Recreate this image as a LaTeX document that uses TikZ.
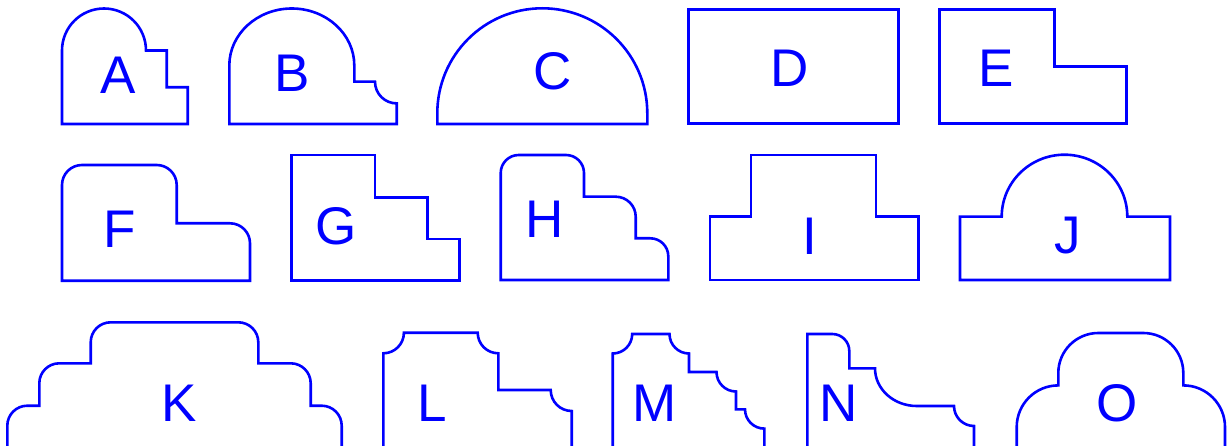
\documentclass[tikz,border=0pt]{standalone}
\usepackage{fontspec}
\setmainfont{Liberation Sans}
\definecolor{pureblue}{RGB}{0,0,255}
\begin{document}
\begin{tikzpicture}[x=1pt,y=-1pt,
  outline/.style={draw=pureblue,line width=2.6pt,line join=miter},
  lbl/.style={text=pureblue,inner sep=0pt,font=\fontsize{53}{53}\selectfont}]
\useasboundingbox (0,0) rectangle (1230,446);
\clip (0,0) rectangle (1230,446);
% A
\draw[outline] (62,124) -- (62,50.5) arc[start angle=180,end angle=360,radius=42]
  -- (166.7,50.5) -- (166.7,87.3) -- (187.7,87.3) -- (187.7,124) -- cycle;
% B
\draw[outline] (229.3,124) -- (229.3,65.5) arc[start angle=180,end angle=360,x radius=62.5,y radius=57]
  -- (354.3,81.7) -- (375,81.7) arc[start angle=180,end angle=90,radius=21.7]
  -- (396.7,124) -- cycle;
% C
\draw[outline] (437.3,124) -- (437.3,113.3) arc[start angle=180,end angle=360,radius=105]
  -- (647.3,124) -- cycle;
% D
\draw[outline] (688.7,9.3) rectangle (898.3,123.3);
% E
\draw[outline] (939.3,123.3) -- (939.3,9.3) -- (1054.3,9.3) -- (1054.3,66.7)
  -- (1126.7,66.7) -- (1126.7,123.3) -- cycle;
% F
\draw[outline] (62,280.7) -- (62,185) arc[start angle=180,end angle=270,radius=20]
  -- (156.7,165) arc[start angle=270,end angle=360,radius=20]
  -- (176.7,223.3) -- (230,223.3) arc[start angle=270,end angle=360,radius=20]
  -- (250,280.7) -- cycle;
% G
\draw[outline] (291.7,280.7) -- (291.7,155) -- (375,155) -- (375,197.3) -- (427.7,197.3)
  -- (427.7,239) -- (459.3,239) -- (459.3,280.7) -- cycle;
% H
\draw[outline] (500.7,280) -- (500.7,173) arc[start angle=180,end angle=270,radius=18]
  -- (566,155) arc[start angle=270,end angle=360,radius=18]
  -- (584,196.7) -- (615.7,196.7) arc[start angle=270,end angle=360,radius=20]
  -- (635.7,238.3) -- (650.3,238.3) arc[start angle=270,end angle=360,radius=18]
  -- (668.3,280) -- cycle;
% I
\draw[outline] (710,280) -- (710,216.7) -- (751,216.7) -- (751,155) -- (876,155)
  -- (876,216.7) -- (918.3,216.7) -- (918.3,280) -- cycle;
% J
\draw[outline] (960,280) -- (960,216.7) -- (1001.7,216.7)
  arc[start angle=180,end angle=360,x radius=62.8,y radius=62]
  -- (1170,216.7) -- (1170,280) -- cycle;
% K
\draw[outline] (7.3,450) -- (7.3,425.7) arc[start angle=180,end angle=270,radius=20]
  -- (39.3,405.7) -- (39.3,383.3) arc[start angle=180,end angle=270,radius=20]
  -- (90.7,363.3) -- (90.7,342.3) arc[start angle=180,end angle=270,radius=20]
  -- (238.3,322.3) arc[start angle=270,end angle=360,radius=20]
  -- (258.3,363.3) -- (290.7,363.3) arc[start angle=270,end angle=360,radius=20]
  -- (310.7,405.7) -- (321.7,405.7) arc[start angle=270,end angle=360,radius=20]
  -- (341.7,450);
% L
\draw[outline] (383.3,450) -- (383.3,353.3) arc[start angle=90,end angle=0,radius=20.6]
  -- (477.7,332.7) arc[start angle=180,end angle=90,radius=20.6]
  -- (498.3,390) -- (550.7,390) arc[start angle=180,end angle=90,radius=21]
  -- (571.7,450);
% M
\draw[outline] (612.7,450) -- (612.7,353.5) arc[start angle=90,end angle=0,radius=19.5]
  -- (669.5,334) arc[start angle=180,end angle=90,radius=19.5]
  -- (689,372) -- (716.5,372) arc[start angle=180,end angle=90,radius=19.5]
  -- (736,409.3) -- (745,409.3) arc[start angle=180,end angle=90,radius=19.3]
  -- (764.3,450);
% N
\draw[outline] (807.3,450) -- (807.3,334) -- (832.3,334) arc[start angle=270,end angle=360,radius=17]
  -- (849.3,368.3) -- (875,368.3) arc[start angle=180,end angle=90,x radius=41.7,y radius=37.7]
  -- (954,406) arc[start angle=180,end angle=90,radius=20]
  -- (974,450);
% O
\draw[outline] (1016.7,450) -- (1016.7,427) arc[start angle=180,end angle=270,radius=41.6]
  -- (1058.3,373) arc[start angle=180,end angle=270,radius=40]
  -- (1143.3,333) arc[start angle=270,end angle=360,radius=40]
  -- (1183.3,385.4) arc[start angle=270,end angle=360,radius=41.7]
  -- (1225,450);
% labels
\node[lbl] (lA) at (118.3,75.5) {A};
\node[lbl] (lB) at (292.5,73.5) {B};
\node[lbl] (lC) at (553,71.7) {C};
\node[lbl] (lD) at (789.7,68.3) {D};
\node[lbl] (lE) at (995.7,68.3) {E};
\node[lbl] (lF) at (119.5,229.5) {F};
\node[lbl] (lG) at (336,226) {G};
\node[lbl] (lH) at (545,219.5) {H};
\node[lbl] (lI) at (810,236) {I};
\node[lbl] (lJ) at (1067.5,236) {J};
\node[lbl] (lK) at (179,403) {K};
\node[lbl] (lL) at (432,403) {L};
\node[lbl] (lM) at (654.3,403) {M};
\node[lbl] (lN) at (838.3,403) {N};
\node[lbl] (lO) at (1117.5,403) {O};
\end{tikzpicture}
\end{document}
